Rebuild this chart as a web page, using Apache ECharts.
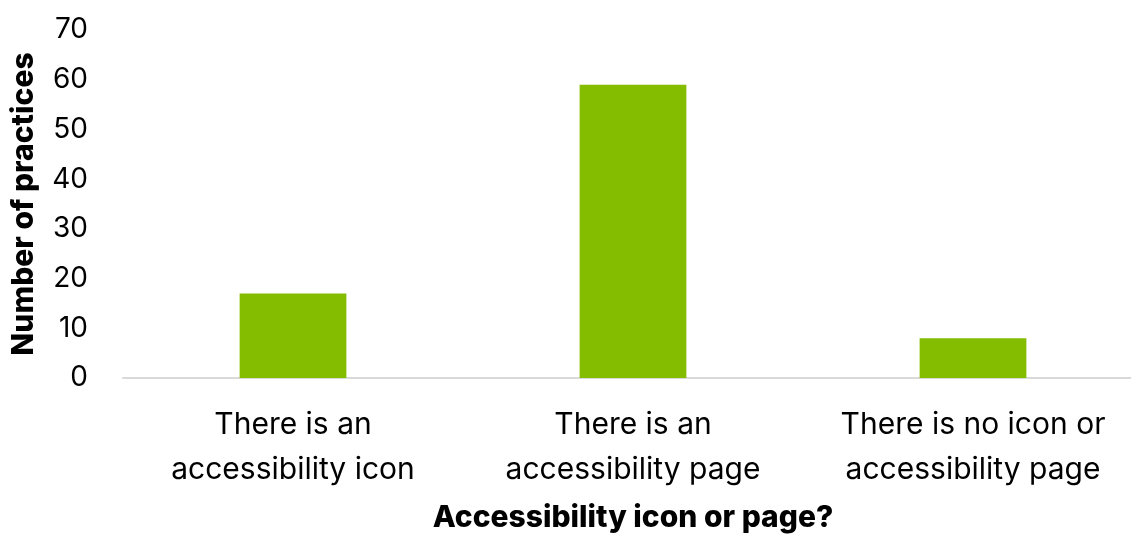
<!DOCTYPE html>
<html>
<head>
<meta charset="utf-8">
<script src="https://cdn.jsdelivr.net/npm/echarts@6/dist/echarts.min.js"></script>
<style>
html,body{margin:0;padding:0;background:#fff;overflow:hidden;}
#chart{width:1150px;height:536px;}
</style>
</head>
<body>
<div id="chart"></div>
<script>
const categories = [
  "There is an\naccessibility icon",
  "There is an\naccessibility page",
  "There is no icon or\naccessibility page"
];
const practices = [17, 59, 8];
const yTicks = { min: 0, max: 70, interval: 10 };
const xTitle = "Accessibility icon or page?";
const yTitle = "Number of practices";

const FONT = "Inter";
const chart = echarts.init(document.getElementById('chart'), null, { renderer: 'canvas' });
chart.setOption({
  backgroundColor: '#ffffff',
  animation: false,
  grid: { left: 123, width: 1020, top: 30, bottom: 158, outerBoundsMode: 'none', containLabel: false },
  xAxis: {
    type: 'category',
    data: categories,
    name: xTitle,
    nameLocation: 'middle',
    nameGap: 125,
    nameTextStyle: { fontFamily: FONT, fontWeight: 800, fontSize: 30, color: '#000' },
    axisLine: { show: true, lineStyle: { color: '#D9D9D9', width: 2 } },
    axisTick: { show: false },
    axisLabel: { fontFamily: FONT, fontSize: 30, color: '#000', lineHeight: 45, margin: 24, interval: 0 }
  },
  yAxis: {
    type: 'value',
    min: yTicks.min, max: yTicks.max, interval: yTicks.interval,
    name: yTitle,
    nameLocation: 'middle',
    nameGap: 84,
    nameRotate: 90,
    nameTextStyle: { fontFamily: FONT, fontWeight: 800, fontSize: 30, color: '#000' },
    axisLine: { show: false },
    axisTick: { show: false },
    splitLine: { show: false },
    axisLabel: { fontFamily: FONT, fontSize: 28, color: '#000', margin: 35 }
  },
  series: [{
    type: 'bar',
    data: practices,
    barWidth: '31.4%',
    itemStyle: { color: '#84BD00' }
  }]
});
</script>
</body>
</html>
